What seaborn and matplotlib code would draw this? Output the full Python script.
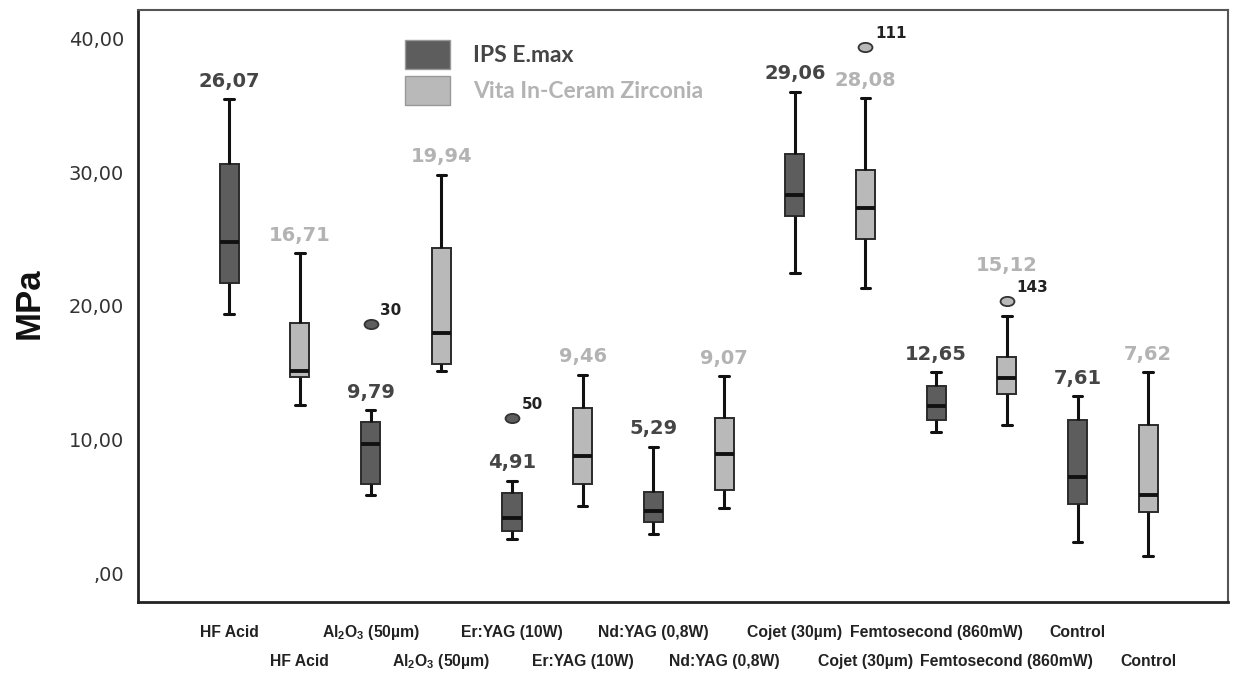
import numpy as np
import pandas as pd
import matplotlib.pyplot as plt
import seaborn as sns
from matplotlib.path import Path
from matplotlib.transforms import Affine2D
from matplotlib.patches import Patch

# Groups and materials
groups = ['HF Acid', 'Al$_2$O$_3$ (50µm)', 'Er:YAG (10W)', 'Nd:YAG (0,8W)',
          'Cojet (30µm)', 'Femtosecond (860mW)', 'Control']
materials = ['IPS E.max', 'Vita In-Ceram Zirconia']

# IPS E.max box stats
emax_low = [19.36, 5.87, 2.52, 2.94, 22.43, 10.58, 2.30]
emax_q1 = [21.68, 6.69, 3.11, 3.82, 26.70, 11.43, 5.14]
emax_med = [24.75, 9.66, 4.15, 4.66, 28.27, 12.50, 7.16]
emax_q3 = [30.61, 11.32, 5.97, 6.09, 31.36, 14.02, 11.48]
emax_high = [35.46, 12.20, 6.91, 9.45, 36.03, 15.04, 13.23]
emax_mean = [26.07, 9.79, 4.91, 5.29, 29.06, 12.65, 7.61]

# Vita In-Ceram Zirconia box stats
vita_low = [12.60, 15.14, 5.04, 4.89, 21.31, 11.08, 1.30]
vita_q1 = [14.67, 15.67, 6.68, 6.24, 24.98, 13.40, 4.57]
vita_med = [15.09, 17.95, 8.78, 8.88, 27.32, 14.57, 5.84]
vita_q3 = [18.70, 24.36, 12.35, 11.63, 30.16, 16.19, 11.08]
vita_high = [23.94, 29.82, 14.84, 14.75, 35.55, 19.26, 15.02]
vita_mean = [16.71, 19.94, 9.46, 9.07, 28.08, 15.12, 7.62]

# Outliers
out_group = ['Al$_2$O$_3$ (50µm)', 'Er:YAG (10W)', 'Cojet (30µm)', 'Femtosecond (860mW)']
out_material = ['IPS E.max', 'IPS E.max', 'Vita In-Ceram Zirconia', 'Vita In-Ceram Zirconia']
out_value = [18.67, 11.64, 39.40, 20.36]
out_case = ['30', '50', '111', '143']

colors = {'IPS E.max': '#5d5d5d', 'Vita In-Ceram Zirconia': '#b9b9b9'}
text_colors = {'IPS E.max': '#454545', 'Vita In-Ceram Zirconia': '#b3b3b3'}
narrow = ['Liberation Sans', 'DejaVu Sans']

sns.set_style('white')
plt.rcParams['mathtext.default'] = 'regular'

# Long-form table: five numbers per box, whiskers go to min/max
stats = {
    'IPS E.max': (emax_low, emax_q1, emax_med, emax_q3, emax_high, emax_mean),
    'Vita In-Ceram Zirconia': (vita_low, vita_q1, vita_med, vita_q3, vita_high, vita_mean),
}
rows = []
for mat in materials:
    lo, a, m, b, hi, _ = stats[mat]
    for i, g in enumerate(groups):
        for v in (lo[i], a[i], m[i], b[i], hi[i]):
            rows.append({'slot': g + '|' + mat, 'material': mat, 'MPa': v})
df = pd.DataFrame(rows)
slots = [g + '|' + mat for g in groups for mat in materials]

odf = pd.DataFrame({'slot': [g + '|' + m for g, m in zip(out_group, out_material)],
                    'material': out_material, 'MPa': out_value})

fig = plt.figure(figsize=(12.38, 6.73), dpi=100)
ax = fig.add_axes([0.1115, 0.1055, 0.8805, 0.8795])

sns.boxplot(data=df, x='slot', y='MPa', hue='material', order=slots, hue_order=materials,
            palette=colors, dodge=False, width=0.27, whis=(0, 100), showfliers=False,
            linecolor='#2b2b2b', linewidth=1.4,
            whiskerprops={'linewidth': 2.2, 'color': '#111111'},
            capprops={'linewidth': 2.2, 'color': '#111111'},
            medianprops={'linewidth': 2.8, 'color': '#111111'},
            legend=False, ax=ax)

ellipse = Path.unit_circle().transformed(Affine2D().scale(1.5, 1.0))
sns.stripplot(data=odf, x='slot', y='MPa', hue='material', order=slots, hue_order=materials,
              palette=colors, jitter=False, dodge=False, marker=ellipse, size=10,
              linewidth=1.3, edgecolor='#333333', legend=False, ax=ax)

# Mean labels above boxes
for i, slot in enumerate(slots):
    g, mat = slot.split('|')
    k = groups.index(g)
    hi = stats[mat][4][k]
    mean = stats[mat][5][k]
    anchor, dy = hi, 6
    for og, om, ov in zip(out_group, out_material, out_value):
        if og == g and om == mat and ov - hi < 2:
            anchor, dy = ov, 19
    ax.annotate(f'{mean:.2f}'.replace('.', ','), xy=(i, anchor), xytext=(0, dy),
                textcoords='offset points', ha='center', va='bottom',
                fontsize=14, fontweight='bold', color=text_colors[mat])

# Outlier case numbers
for og, om, ov, oc in zip(out_group, out_material, out_value, out_case):
    i = slots.index(og + '|' + om)
    ax.annotate(oc, xy=(i, ov), xytext=(7, 4), textcoords='offset points',
                ha='left', va='bottom', fontsize=11, fontweight='bold', color='#222222')

ax.set_xlim(-1.29, 14.13)
ax.set_ylim(-2.17, 42.14)

ax.set_yticks([0, 10, 20, 30, 40])
ax.set_yticklabels([f'{v:.2f}'.replace('.', ',').lstrip('0') for v in [0, 10, 20, 30, 40]],
                   fontsize=14, color='#333333')
ax.set_xticks(range(len(slots)))
ax.set_xticklabels([s.split('|')[0] for s in slots], fontsize=11.3, fontweight='bold',
                   family=narrow, color='#222222')
# two staggered rows, aligned on the baseline so the subscripts don't push labels down
for j, lbl in enumerate(ax.get_xticklabels()):
    lbl.set_verticalalignment('baseline')
    lbl.set_y(-0.019 if j % 2 == 0 else -0.069)
ax.tick_params(axis='both', direction='out', length=8, width=2, color='#222222')
ax.tick_params(axis='x', pad=9)
ax.tick_params(axis='y', pad=2)

ax.set_xlabel('')
ax.set_ylabel('MPa', fontsize=25, fontweight='bold', family=narrow, color='#111111')
ax.yaxis.set_label_coords(-0.085, 0.505)

for side in ['left', 'bottom']:
    ax.spines[side].set_color('#222222')
    ax.spines[side].set_linewidth(2)
for side in ['top', 'right']:
    ax.spines[side].set_color('#555555')
    ax.spines[side].set_linewidth(1.5)

handles = [Patch(facecolor=colors[m], edgecolor='#999999', linewidth=1) for m in materials]
leg = ax.legend(handles, materials, loc='upper left', bbox_to_anchor=(0.245, 0.949),
                frameon=False, borderaxespad=0, borderpad=0, handlelength=1.96,
                handleheight=1.57, handletextpad=1.0, labelspacing=0.3,
                prop={'family': 'Lato', 'weight': 'bold', 'size': 16.5})
for txt, m in zip(leg.get_texts(), materials):
    txt.set_color(text_colors[m])

fig.savefig('out.png', dpi=100)
